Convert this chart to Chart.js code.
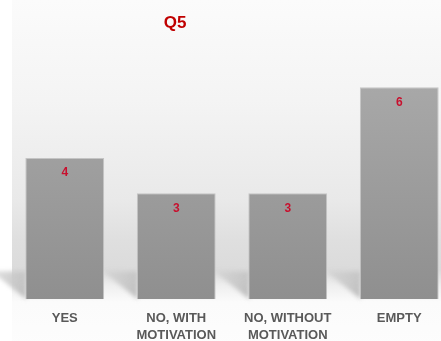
<!DOCTYPE html>
<html>
<head>
<meta charset="utf-8">
<script src="https://cdn.jsdelivr.net/npm/chart.js@4.4.1/dist/chart.umd.min.js"></script>
<style>
  html, body { margin: 0; padding: 0; background: #ffffff; overflow: hidden; }
  #wrap { width: 455px; height: 355px; }
</style>
</head>
<body>
<div id="wrap"><canvas id="c" width="455" height="355"></canvas></div>
<script>
const chartTitle = 'Q5';
const categories = [['YES'], ['NO, WITH', 'MOTIVATION'], ['NO, WITHOUT', 'MOTIVATION'], ['EMPTY']];
const responses = [4, 3, 3, 6];
const yTicksMax = 7;

const FONT = "'Liberation Sans', Arial, sans-serif";

// Backdrop: soft grey band behind the bars, white floor below
const backdrop = {
  id: 'backdrop',
  beforeDraw(chart) {
    const { ctx, width, height } = chart;
    ctx.save();
    ctx.fillStyle = '#ffffff';
    ctx.fillRect(0, 0, width, height);
    const g = ctx.createLinearGradient(0, 0, 0, height);
    const stop = (y, c) => g.addColorStop(Math.min(1, y / height), c);
    stop(0, '#fbfbfb');
    stop(100, '#f4f4f4');
    stop(200, '#e9e9e9');
    stop(240, '#dfdfdf');
    stop(270, '#dbdbdb');
    stop(286, '#efefef');
    stop(302, '#fbfbfb');
    stop(height, '#fdfdfd');
    ctx.fillStyle = g;
    ctx.fillRect(12, 0, width - 12, height);
    ctx.restore();
  }
};

// Floor shadow to the left of each bar, tapering down to its base corner
const barShadows = {
  id: 'barShadows',
  beforeDatasetsDraw(chart) {
    const { ctx } = chart;
    const meta = chart.getDatasetMeta(0);
    ctx.save();
    ctx.filter = 'blur(2px)';
    meta.data.forEach(bar => {
      const p = bar.getProps(['x', 'y', 'base', 'width'], true);
      const left = p.x - p.width / 2;
      const b = p.base;
      const w = 34, h = 28;
      const g = ctx.createLinearGradient(left - w, b - h, left, b - h * 0.3);
      g.addColorStop(0, 'rgba(205,205,205,0.6)');
      g.addColorStop(1, 'rgba(192,192,192,1)');
      ctx.fillStyle = g;
      ctx.beginPath();
      ctx.moveTo(left - w, b - h);
      ctx.lineTo(left + 1, b - h);
      ctx.lineTo(left + 1, b);
      ctx.closePath();
      ctx.fill();
    });
    ctx.restore();
  }
};

// Red value labels inside the top of each bar, plus the chart heading
const annotations = {
  id: 'annotations',
  afterDatasetsDraw(chart) {
    const { ctx } = chart;
    const meta = chart.getDatasetMeta(0);
    ctx.save();
    ctx.fillStyle = '#c8102e';
    ctx.font = 'bold 12px ' + FONT;
    ctx.textAlign = 'center';
    ctx.textBaseline = 'middle';
    meta.data.forEach((bar, i) => {
      const p = bar.getProps(['x', 'y'], true);
      ctx.fillText(String(chart.data.datasets[0].data[i]), p.x, p.y + 15);
    });
    ctx.fillStyle = '#c00000';
    ctx.font = 'bold 17px ' + FONT;
    ctx.fillText(chartTitle, 175, 23);
    ctx.restore();
  }
};

const ctx = document.getElementById('c').getContext('2d');
new Chart(ctx, {
  type: 'bar',
  data: {
    labels: categories,
    datasets: [{
      data: responses,
      backgroundColor(context) {
        const area = context.chart.chartArea;
        if (!area) return '#9c9c9c';
        const g = context.chart.ctx.createLinearGradient(0, area.top, 0, area.bottom);
        g.addColorStop(0, '#acacac');
        g.addColorStop(1, '#8f8f8f');
        return g;
      },
      borderColor: '#c4c4c4',
      borderWidth: 1,
      categoryPercentage: 1,
      barPercentage: 0.707
    }]
  },
  plugins: [backdrop, barShadows, annotations],
  options: {
    responsive: false,
    animation: false,
    devicePixelRatio: 1,
    layout: { padding: { top: 52, left: 9, right: 0, bottom: 0 } },
    plugins: {
      legend: { display: false },
      title: { display: false },
      tooltip: { enabled: false }
    },
    scales: {
      x: {
        grid: { display: false, drawTicks: false },
        border: { display: false },
        ticks: {
          color: '#595959',
          font: { family: FONT, size: 13, weight: 'bold', lineHeight: 1.3 },
          padding: 11,
          maxRotation: 0,
          autoSkip: false
        }
      },
      y: {
        display: false,
        min: 0,
        max: yTicksMax
      }
    }
  }
});
</script>
</body>
</html>
